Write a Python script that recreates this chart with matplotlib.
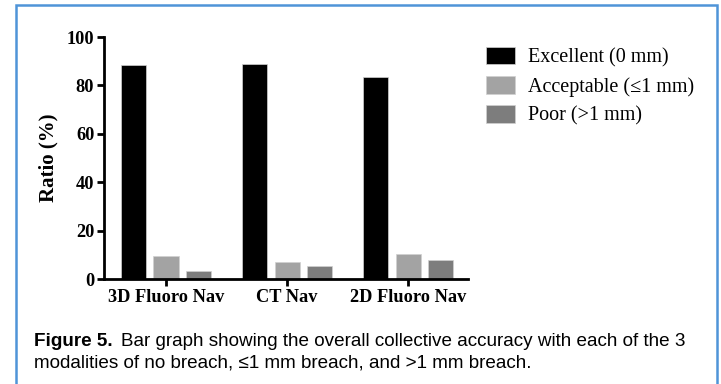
import numpy as np
import matplotlib.pyplot as plt
from matplotlib.patches import Rectangle

# data
groups = ['3D Fluoro Nav', 'CT Nav', '2D Fluoro Nav']
series = ['Excellent (0 mm)', 'Acceptable (≤1 mm)', 'Poor (>1 mm)']
excellent = [88.5, 89.0, 83.3]
acceptable = [9.7, 7.1, 10.4]
poor = [3.5, 5.4, 8.0]
colors = ['#000000', '#a3a3a3', '#7d7d7d']

W, H = 721, 384
fig = plt.figure(figsize=(W / 100, H / 100), dpi=100)
fig.patch.set_facecolor('white')

serif = ['Liberation Serif', 'DejaVu Serif']
sans = ['Liberation Sans', 'DejaVu Sans']

# blue frame around the figure panel
fig.add_artist(Rectangle((16 / W, -0.1), (717 - 16) / W, 1.1 - 5 / H,
                         transform=fig.transFigure, fill=False,
                         edgecolor='#4f94d8', linewidth=1.8))

ax = fig.add_axes([104 / W, 1 - 279 / H, (467.6 - 104) / W, (279 - 37) / H])

x = np.arange(len(groups))
pitch = 0.27
width = 0.207
for i, (vals, lab) in enumerate(zip([excellent, acceptable, poor], series)):
    ax.bar(x + (i - 1) * pitch, vals, width, color=colors[i], label=lab,
           edgecolor='#d0d0d0', linewidth=0.5)

ax.set_xlim(-0.512, 2.49)
ax.set_ylim(0, 100)
ax.set_yticks([0, 20, 40, 60, 80, 100])
ax.set_xticks(x)
ax.set_xticklabels(groups)

for s in ['top', 'right']:
    ax.spines[s].set_visible(False)
for s in ['left', 'bottom']:
    ax.spines[s].set_linewidth(2)

ax.tick_params(axis='both', direction='out', length=5, width=2, pad=2)
for lab in ax.get_xticklabels() + ax.get_yticklabels():
    lab.set_family(serif)
    lab.set_fontweight('bold')
    lab.set_fontsize(13.2)

ax.set_ylabel('Ratio (%)', family=serif, fontweight='bold', fontsize=15, labelpad=6)

leg = fig.legend(loc='upper left', bbox_to_anchor=(468 / W, 1 - 29 / H),
                 frameon=False, prop={'family': serif, 'size': 14.5},
                 handlelength=1.45, handleheight=0.95, handletextpad=0.65,
                 labelspacing=0.42)

# caption
cap_size = 13.6
bold = fig.text(34 / W, 1 - 346 / H, 'Figure 5.', family=sans, fontweight='bold',
                fontsize=cap_size, va='baseline')
fig.canvas.draw()
bb = bold.get_window_extent(fig.canvas.get_renderer())
fig.text(bb.x1 / W + 8 / W, 1 - 346 / H,
         'Bar graph showing the overall collective accuracy with each of the 3',
         family=sans, fontsize=cap_size, va='baseline')
fig.text(34 / W, 1 - 368 / H,
         'modalities of no breach, ≤1 mm breach, and >1 mm breach.',
         family=sans, fontsize=cap_size, va='baseline')

fig.savefig('out.png', dpi=100)
